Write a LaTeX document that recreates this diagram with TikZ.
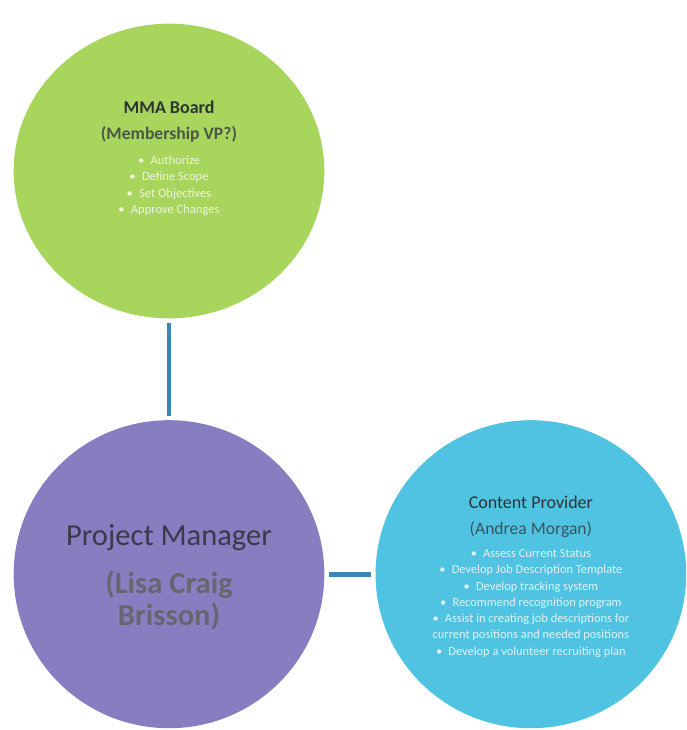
\documentclass[tikz,border=0pt]{standalone}
\usepackage{fontspec}
\setmainfont{Carlito}
\usetikzlibrary{positioning,shapes.geometric}
\definecolor{boardgreen}{HTML}{A8D65D}
\definecolor{managerpurple}{HTML}{877EC2}
\definecolor{providerblue}{HTML}{4FC3E1}
\definecolor{linkblue}{HTML}{3A86B4}
\definecolor{headdark}{HTML}{2E3332}
\definecolor{boardgrey}{HTML}{4A5747}
\definecolor{managerdark}{HTML}{3B3A48}
\definecolor{managergrey}{HTML}{67666F}
\definecolor{providergrey}{HTML}{3A5360}
\tikzset{
  orgcircle/.style={ellipse, inner sep=0pt, minimum width=233pt, minimum height=231pt},
  greencircle/.style={orgcircle, fill=boardgreen, minimum width=233pt, minimum height=221pt},
  purplecircle/.style={orgcircle, fill=managerpurple},
  bluecircle/.style={orgcircle, fill=providerblue},
  circletext/.style={align=center, inner sep=0pt},
  link/.style={line width=3.5pt, draw=linkblue, shorten <=3pt, shorten >=3pt}
}
\newcommand{\headfont}{\fontsize{13.5}{16}\selectfont}
\newcommand{\subfont}{\fontsize{13.2}{15}\selectfont}

\begin{document}
\begin{tikzpicture}[x=0.75pt, y=-0.75pt, node distance=76pt and 38pt]
    \useasboundingbox (0,0) rectangle (686,730);
    \node[greencircle] (board) at (169,171) {};
    \node[purplecircle, below=of board] (manager) {};
    \node[bluecircle, right=of manager] (provider) {};
    \draw[link] (board) -- (manager);
    \draw[link] (manager) -- (provider);
    \node[circletext, font=\fontsize{9.4}{12.3}\selectfont, text=boardgreen!22!white]
      (boardtext) at ([yshift=9.5pt]board.center)
      {{\headfont\bfseries\color{headdark}MMA Board}\\[7pt]
       {\subfont\bfseries\color{boardgrey}(Membership VP?)}\\[6.8pt]
       •\enspace Authorize\\
       •\enspace Define Scope\\
       •\enspace Set Objectives\\
       •\enspace Approve Changes};
    \node[circletext, font=\fontsize{22.9}{24}\selectfont]
      (managertext) at ([yshift=-2pt]manager.center)
      {{\color{managerdark}Project Manager}\\[12pt]
       {\bfseries\color{managergrey}(Lisa Craig}\\
       {\bfseries\color{managergrey}Brisson)}};
    \node[circletext, font=\fontsize{9.3}{12.2}\selectfont, text=providerblue!18!white]
      (providertext) at ([yshift=-2pt]provider.center)
      {{\headfont\color{headdark}Content Provider}\\[7.3pt]
       {\subfont\color{providergrey}(Andrea Morgan)}\\[4.7pt]
       •\enspace Assess Current Status\\
       •\enspace Develop Job Description Template\\
       •\enspace Develop tracking system\\
       •\enspace Recommend recognition program\\
       •\enspace Assist in creating job descriptions for\\
       current positions and needed positions\\
       •\enspace Develop a volunteer recruiting plan};
\end{tikzpicture}
\end{document}
